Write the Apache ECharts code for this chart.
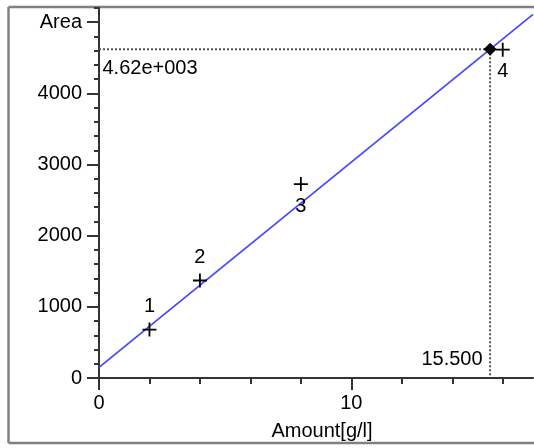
<!DOCTYPE html>
<html><head><meta charset="utf-8">
<script src="https://cdn.jsdelivr.net/npm/echarts@6/dist/echarts.min.js"></script>
<style>html,body{margin:0;padding:0;background:#fff;overflow:hidden}#c{width:534px;height:448px}</style>
</head><body><div id="c"></div>
<script>
// ---- data ----
const pointNames = ['1', '2', '3', '4'];
const pointX = [2, 4, 8, 16];
const pointY = [680, 1370, 2725, 4615];
const fitX = [0, 17.2];
const fitY = [150, 5110];
const resultX = 15.5;
const resultY = 4620;
const yMajorTicks = [0, 1000, 2000, 3000, 4000, 5000];
const yLabels = ['0', '1000', '2000', '3000', '4000', 'Area'];
const yMinorTicks = [0, 200, 400, 600, 800, 1000, 1200, 1400, 1600, 1800, 2000, 2200, 2400, 2600, 2800, 3000, 3200, 3400, 3600, 3800, 4000, 4200, 4400, 4600, 4800, 5000, 5200];
const xMajorTicks = [0, 10];
const xLabels = ['0', '10'];
const xMinorTicks = [0, 2, 4, 6, 8, 10, 12, 14, 16];
const xTitle = 'Amount[g/l]';
const xMax = 17.2;
const yMax = 5200;

function fmtExp(v) {
  const parts = v.toExponential(2).split('e');
  const e = +parts[1];
  return parts[0] + 'e' + (e < 0 ? '-' : '+') + String(Math.abs(e)).padStart(3, '0');
}

const FONT = "'Liberation Sans', Arial, sans-serif";
const txt = { fontFamily: FONT, fontSize: 20, color: '#000' };
const axisLine = { color: '#333', width: 2 };
const frame = { stroke: '#808080', lineWidth: 2.5 };

const chart = echarts.init(document.getElementById('c'), null, { renderer: 'canvas' });
chart.setOption({
  animation: false,
  backgroundColor: '#fff',
  graphic: [
    { type: 'line', z: -10, shape: { x1: 8.5, y1: 7, x2: 534, y2: 7 }, style: frame },
    { type: 'line', z: -10, shape: { x1: 8.5, y1: 7, x2: 8.5, y2: 443 }, style: frame },
    { type: 'line', z: -10, shape: { x1: 8.5, y1: 443, x2: 534, y2: 443 }, style: frame }
  ],
  grid: { left: 99, top: 8, right: 1, bottom: 70, containLabel: false },
  xAxis: [{
    type: 'value', min: 0, max: xMax, position: 'bottom',
    axisLine: { show: true, onZero: false, lineStyle: axisLine },
    axisTick: { show: true, customValues: xMinorTicks, length: 6, lineStyle: axisLine },
    axisLabel: { show: false },
    splitLine: { show: false }
  }, {
    type: 'value', min: 0, max: xMax, position: 'bottom',
    axisLine: { show: false, onZero: false },
    axisTick: { show: true, customValues: xMajorTicks, length: 12, lineStyle: axisLine },
    axisLabel: Object.assign({ show: true, customValues: xMajorTicks, margin: 15,
      formatter: v => xLabels[xMajorTicks.indexOf(v)] }, txt),
    splitLine: { show: false },
    name: xTitle, nameLocation: 'middle', nameGap: 43,
    nameTextStyle: Object.assign({ padding: [0, 0, 0, 12] }, txt)
  }],
  yAxis: [{
    type: 'value', min: 0, max: yMax, position: 'left',
    axisLine: { show: true, onZero: false, lineStyle: axisLine },
    axisTick: { show: true, customValues: yMinorTicks, length: 5, lineStyle: axisLine },
    axisLabel: { show: false },
    splitLine: { show: false }
  }, {
    type: 'value', min: 0, max: yMax, position: 'left',
    axisLine: { show: false, onZero: false },
    axisTick: { show: true, customValues: yMajorTicks, length: 12, lineStyle: axisLine },
    axisLabel: Object.assign({ show: true, customValues: yMajorTicks, margin: 17,
      formatter: v => yLabels[yMajorTicks.indexOf(v)] }, txt),
    splitLine: { show: false }
  }],
  series: [{
    type: 'line', xAxisIndex: 0, yAxisIndex: 0, z: 3,
    data: fitX.map((x, i) => [x, fitY[i]]),
    showSymbol: false, symbol: 'none',
    lineStyle: { color: '#4848ff', width: 1.8 }
  }, {
    type: 'line', xAxisIndex: 0, yAxisIndex: 0, z: 2,
    data: [{ value: [0, resultY], label: Object.assign({ show: true, formatter: () => fmtExp(resultY), position: [4, 10] }, txt) },
           [resultX, resultY]],
    showSymbol: true, symbol: 'circle', symbolSize: 1,
    itemStyle: { color: 'rgba(0,0,0,0)' },
    lineStyle: { color: '#555', width: 2, type: [2, 2] }
  }, {
    type: 'line', xAxisIndex: 0, yAxisIndex: 0, z: 2,
    data: [[resultX, resultY],
           { value: [resultX, 0], label: Object.assign({ show: true, formatter: () => resultX.toFixed(3), position: [-7, -28], align: 'right' }, txt) }],
    showSymbol: true, symbol: 'circle', symbolSize: 1,
    itemStyle: { color: 'rgba(0,0,0,0)' },
    lineStyle: { color: '#555', width: 2, type: [2, 2] }
  }, {
    type: 'scatter', xAxisIndex: 0, yAxisIndex: 0, z: 4,
    symbol: 'path://M0,5L10,5M5,0L5,10', symbolSize: 14,
    itemStyle: { color: 'none', borderColor: '#000', borderWidth: 1.8, opacity: 1 },
    data: pointNames.map((n, i) => ({
      value: [pointX[i], pointY[i]], name: n,
      label: Object.assign({ show: true, formatter: n, position: 'inside', offset: i < 2 ? [0, -23] : [0, 22] }, txt)
    }))
  }, {
    type: 'scatter', xAxisIndex: 0, yAxisIndex: 0, z: 5,
    symbol: 'diamond', symbolSize: 13,
    itemStyle: { color: '#000', opacity: 1 },
    data: [[resultX, resultY]]
  }]
});
</script>
</body></html>
